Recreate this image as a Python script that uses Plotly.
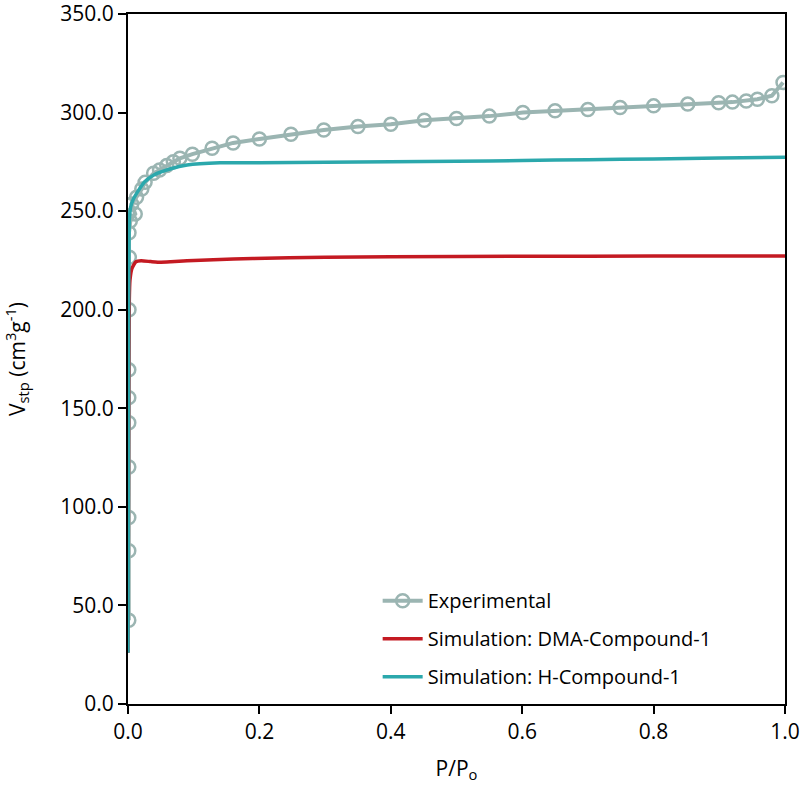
import plotly.graph_objects as go

# Experimental isotherm
exp_p = [0.0012, 0.0012, 0.0012, 0.0012, 0.0012, 0.0012, 0.0012, 0.0015, 0.0020, 0.0015,
         0.0035, 0.011, 0.0056, 0.013, 0.021, 0.026, 0.039, 0.048, 0.059, 0.069,
         0.079, 0.098, 0.128, 0.160, 0.200, 0.248, 0.298, 0.350, 0.400, 0.451,
         0.500, 0.550, 0.601, 0.650, 0.700, 0.749, 0.800, 0.852, 0.899, 0.920,
         0.941, 0.958, 0.980, 0.997]
exp_v = [42.5, 77.7, 94.6, 120.2, 142.7, 155.4, 169.5, 200.0, 226.6, 239.0,
         245.0, 248.6, 253.6, 257.0, 261.2, 264.6, 269.2, 270.9, 273.1, 275.1,
         276.8, 278.9, 281.9, 284.6, 286.6, 289.0, 291.2, 292.9, 294.1, 296.1,
         297.0, 298.2, 300.0, 300.9, 301.6, 302.6, 303.4, 304.3, 305.0, 305.3,
         305.9, 306.8, 308.5, 315.3]

# Simulation: DMA-Compound-1
dma_p = [0.0, 0.001, 0.002, 0.003, 0.006, 0.012, 0.02, 0.035, 0.05, 0.065,
         0.09, 0.13, 0.19, 0.3, 0.4, 0.6, 0.8, 1.0]
dma_v = [26.0, 150.0, 205.0, 215.0, 221.0, 224.3, 224.8, 224.4, 224.1, 224.3,
         224.8, 225.4, 226.0, 226.6, 226.9, 227.1, 227.2, 227.3]

# Simulation: H-Compound-1
h_p = [0.0, 0.0005, 0.001, 0.002, 0.004, 0.008, 0.015, 0.025, 0.04, 0.064,
       0.09, 0.14, 0.2, 0.3, 0.4, 0.5, 0.6, 0.7, 0.8, 0.9, 1.0]
h_v = [26.0, 100.0, 200.0, 245.0, 252.0, 256.0, 260.0, 264.8, 268.5, 271.4,
       273.4, 274.5, 274.6, 274.8, 275.0, 275.3, 275.7, 276.1, 276.5, 276.9, 277.3]

x_ticks = [0.0, 0.2, 0.4, 0.6, 0.8, 1.0]
y_ticks = [0, 50, 100, 150, 200, 250, 300, 350]

font_family = "Open Sans, Liberation Sans, sans-serif"

fig = go.Figure()
fig.add_trace(go.Scatter(
    x=exp_p, y=exp_v, name="Experimental", mode="lines+markers", legendgroup="a",
    line=dict(color="#9BB5B2", width=4),
    marker=dict(symbol="circle-open", size=13, color="#9BB5B2", line=dict(width=2.5, color="#9BB5B2")),
))
fig.add_trace(go.Scatter(
    x=dma_p, y=dma_v, name="Simulation: DMA-Compound-1", mode="lines", legendgroup="b",
    line=dict(color="#C41A22", width=3.5, shape="spline", smoothing=0.5),
))
fig.add_trace(go.Scatter(
    x=h_p, y=h_v, name="Simulation: H-Compound-1", mode="lines", legendgroup="c",
    line=dict(color="#2BA8AC", width=3.5, shape="spline", smoothing=0.5),
))

fig.update_layout(
    width=803, height=809,
    margin=dict(l=128, r=18, t=14, b=105, autoexpand=False),
    paper_bgcolor="white", plot_bgcolor="white",
    font=dict(family=font_family, size=21, color="#000000"),
    showlegend=True,
    legend=dict(x=0.38, y=0.178, xanchor="left", yanchor="top",
                bgcolor="rgba(255,255,255,0)", font=dict(size=20),
                traceorder="grouped", tracegroupgap=9, itemwidth=40),
)
fig.update_xaxes(
    range=[0, 1.0], tickvals=x_ticks, tickformat=".1f", automargin=False,
    ticklabeloverflow="allow",
    showgrid=False, zeroline=False,
    showline=True, linecolor="black", linewidth=2, mirror=True,
    ticks="outside", ticklen=8, tickwidth=2, tickcolor="black",
    title=dict(text="P/P<sub>o</sub>", standoff=17, font=dict(size=21)),
)
fig.update_yaxes(
    range=[0, 350], tickvals=y_ticks, tickformat=".1f", automargin=False,
    ticklabeloverflow="allow",
    showgrid=False, zeroline=False,
    showline=True, linecolor="black", linewidth=2, mirror=True,
    ticks="outside", ticklen=8, tickwidth=2, tickcolor="black",
    title=dict(text="V<sub>stp</sub> (cm<sup>3</sup>g<sup>-1</sup>)", standoff=34, font=dict(size=21)),
)

# remove the default 8px page margin so the figure fills the window exactly
fig.write_html("out.html", config={"displayModeBar": False},
               post_script="document.body.style.margin='0';")
